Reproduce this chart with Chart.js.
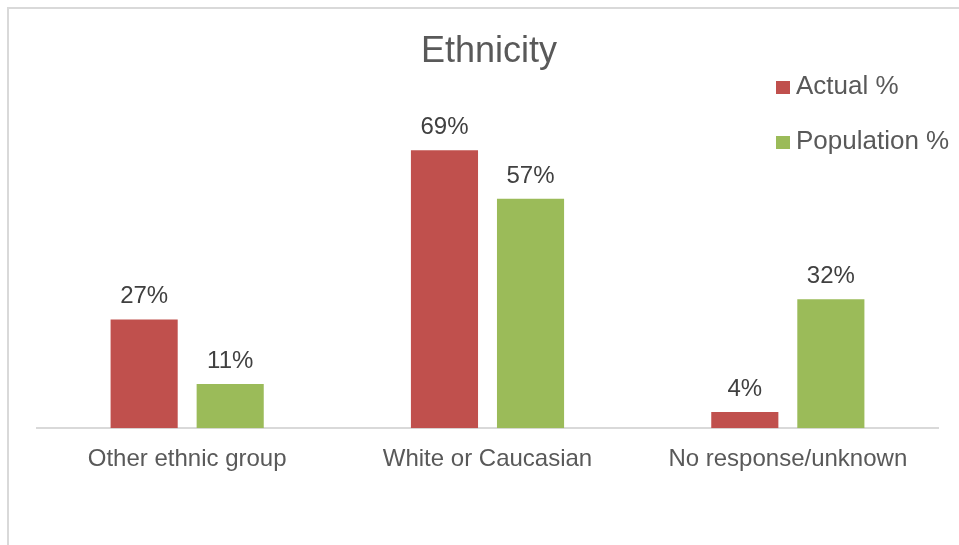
<!DOCTYPE html>
<html>
<head>
<meta charset="utf-8">
<script src="https://cdn.jsdelivr.net/npm/chart.js@4/dist/chart.umd.min.js"></script>
<style>
  body { margin: 0; background: #fff; }
  #wrap { position: absolute; left: 0; top: 0; width: 959px; height: 545px; }
</style>
</head>
<body>
<div id="wrap"><canvas id="barChart" width="959" height="545"></canvas></div>
<script>
const categories = ["Other ethnic group", "White or Caucasian", "No response/unknown"];
const actualPct = [27, 69, 4];
const populationPct = [11, 57, 32];
const seriesNames = ["Actual %", "Population %"];
const titleText = "Ethnicity";

const RED = "#C0504D";
const GREEN = "#9BBB59";
const FONT = "'Liberation Sans', Arial, sans-serif";

// frame, title, legend and value labels
const decor = {
  id: "decor",
  beforeDraw(chart) {
    const ctx = chart.ctx;
    ctx.save();
    ctx.fillStyle = "#d9d9d9";
    ctx.fillRect(7, 7, 952, 2);
    ctx.fillRect(7, 7, 2, 538);
    ctx.restore();
  },
  afterDatasetsDraw(chart) {
    const ctx = chart.ctx;
    ctx.save();
    ctx.font = "24px " + FONT;
    ctx.fillStyle = "#404040";
    ctx.textAlign = "center";
    ctx.textBaseline = "alphabetic";
    chart.data.datasets.forEach((ds, i) => {
      chart.getDatasetMeta(i).data.forEach((bar, j) => {
        ctx.fillText(ds.data[j] + "%", bar.x, bar.y - 16);
      });
    });
    // title
    ctx.font = "36px " + FONT;
    ctx.fillStyle = "#595959";
    ctx.fillText(titleText, 489, 62);
    // legend
    ctx.font = "26px " + FONT;
    ctx.textAlign = "left";
    const colors = [RED, GREEN];
    const rows = [94, 149];
    seriesNames.forEach((name, i) => {
      ctx.fillStyle = colors[i];
      ctx.fillRect(776, rows[i] - 13, 14, 13);
      ctx.fillStyle = "#595959";
      ctx.fillText(name, 796, rows[i]);
    });
    ctx.restore();
  }
};

new Chart(document.getElementById("barChart"), {
  type: "bar",
  data: {
    labels: categories,
    datasets: [
      { label: seriesNames[0], data: actualPct, backgroundColor: RED },
      { label: seriesNames[1], data: populationPct, backgroundColor: GREEN }
    ]
  },
  options: {
    responsive: false,
    animation: false,
    categoryPercentage: 0.573,
    barPercentage: 0.78,
    layout: { padding: { left: 37, right: 21, top: 106, bottom: 54 } },
    plugins: {
      legend: { display: false },
      title: { display: false },
      tooltip: { enabled: false }
    },
    scales: {
      x: {
        grid: { display: false, drawTicks: false },
        border: { display: true, color: "#d9d9d9", width: 2 },
        ticks: { color: "#595959", font: { family: FONT, size: 24 }, padding: 17, maxRotation: 0 }
      },
      y: {
        display: false,
        min: 0,
        max: 80
      }
    }
  },
  plugins: [decor]
});
</script>
</body>
</html>
